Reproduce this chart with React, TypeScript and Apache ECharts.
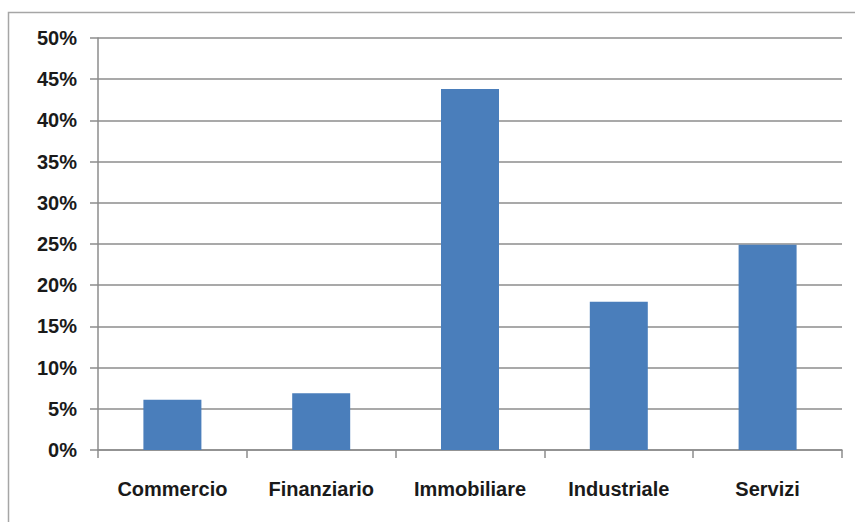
import React, { useEffect, useRef } from "react";
import * as echarts from "echarts";

const categories = ["Commercio", "Finanziario", "Immobiliare", "Industriale", "Servizi"];
const values = [6.1, 6.9, 43.8, 18.0, 24.9];
const yMin = 0;
const yMax = 50;
const yStep = 5;

export default function App() {
  const ref = useRef<HTMLDivElement>(null);
  useEffect(() => {
    document.body.style.margin = "0";
    const chart = echarts.init(ref.current!, null, { renderer: "svg" });
    const font = "'Liberation Sans', Arial, sans-serif";
    chart.setOption({
      animation: false,
      backgroundColor: "#ffffff",
      graphic: [
        {
          type: "rect",
          shape: { x: 8.5, y: 12.5, width: 900, height: 600 },
          style: { fill: "none", stroke: "#a6a6a6", lineWidth: 1.5 },
          silent: true,
        },
      ],
      grid: { left: 98, right: 13, top: 38, bottom: 72, containLabel: false },
      xAxis: {
        type: "category",
        data: categories,
        axisLine: { show: true, lineStyle: { color: "#8c8c8c", width: 1.5 } },
        axisTick: { show: true, alignWithLabel: false, length: 8, lineStyle: { color: "#8c8c8c", width: 1.5 } },
        axisLabel: {
          margin: 29,
          color: "#1a1a1a",
          fontFamily: font,
          fontSize: 20,
          fontWeight: "bold",
        },
      },
      yAxis: {
        type: "value",
        min: yMin,
        max: yMax,
        interval: yStep,
        axisLine: { show: true, lineStyle: { color: "#8c8c8c", width: 1.5 } },
        axisTick: { show: true, length: 8, lineStyle: { color: "#8c8c8c", width: 1.5 } },
        splitLine: { show: true, lineStyle: { color: "#8c8c8c", width: 1.5 } },
        axisLabel: {
          margin: 21,
          formatter: "{value}%",
          color: "#1a1a1a",
          fontFamily: font,
          fontSize: 20,
          fontWeight: "bold",
        },
      },
      series: [
        {
          type: "bar",
          data: values,
          barWidth: 58,
          itemStyle: { color: "#4a7ebb" },
        },
      ],
    });
    return () => chart.dispose();
  }, []);
  return (
    <div
      ref={ref}
      style={{ position: "fixed", left: 0, top: 0, width: 855, height: 522 }}
    />
  );
}
